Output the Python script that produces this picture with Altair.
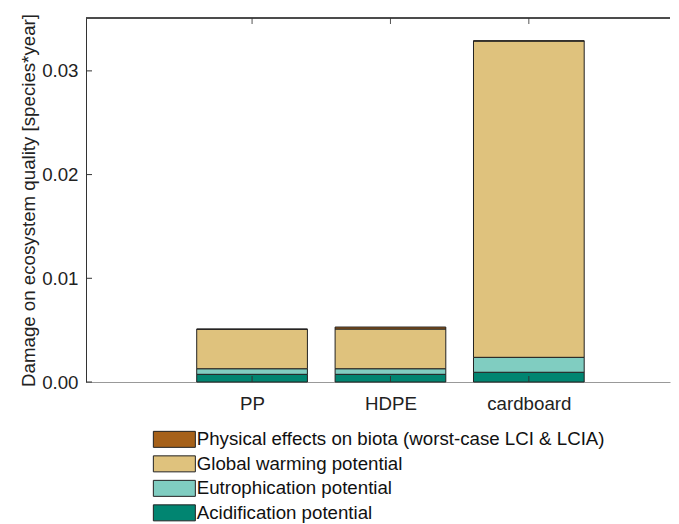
import altair as alt
import pandas as pd

materials = ["PP", "HDPE", "cardboard"]
positions = [1, 2, 3]
acidification = [0.00074, 0.00074, 0.00094]
eutrophication = [0.00054, 0.00054, 0.00144]
global_warming = [0.00380, 0.00383, 0.03050]
physical = [0.00003, 0.00019, 0.00002]

categories = [
    "Acidification potential",
    "Eutrophication potential",
    "Global warming potential",
    "Physical effects on biota (worst-case LCI & LCIA)",
]
legend_order = categories[::-1]
colors = {
    "Physical effects on biota (worst-case LCI & LCIA)": "#A6611A",
    "Global warming potential": "#DFC27D",
    "Eutrophication potential": "#80CDC1",
    "Acidification potential": "#018571",
}
y_ticks = [0.0, 0.01, 0.02, 0.03]

series = [acidification, eutrophication, global_warming, physical]
rows = []
for i, (m, p) in enumerate(zip(materials, positions)):
    base = 0.0
    for cat, vals in zip(categories, series):
        rows.append({"material": m, "pos": p, "cat": cat,
                     "y0": base, "y1": base + vals[i],
                     "x0": p - 0.4, "x1": p + 0.4})
        base += vals[i]
df = pd.DataFrame(rows)

FONT = "Liberation Sans"
FS = 18.7
W, H = 584, 364
xscale = alt.Scale(domain=[-0.2, 4.02], nice=False, zero=False)
yscale = alt.Scale(domain=[0, 0.0351], nice=False)

bars = alt.Chart(df).mark_bar(stroke="#222", strokeWidth=1, opacity=1).encode(
    x=alt.X("x0:Q", scale=xscale,
            axis=alt.Axis(values=positions, labelExpr="datum.value == 1 ? 'PP' : datum.value == 2 ? 'HDPE' : 'cardboard'",
                          grid=False, ticks=False, title=None, labelFontSize=FS, labelColor="#222",
                          labelPadding=12, domainColor="#999", labelFont=FONT)),
    x2="x1:Q",
    y=alt.Y("y0:Q", scale=yscale,
            axis=alt.Axis(values=y_ticks, format=".2f", grid=False, ticks=False,
                          title="Damage on ecosystem quality [species*year]",
                          titleFontSize=FS, titleFontWeight="normal", titleColor="#222",
                          labelFontSize=FS, labelColor="#222", labelPadding=8, titlePadding=3,
                          domainColor="#333", labelFont=FONT, titleFont=FONT)),
    y2="y1:Q",
    color=alt.Color("cat:N", scale=alt.Scale(domain=legend_order, range=[colors[c] for c in legend_order]),
                    legend=alt.Legend(title=None, orient="none", legendX=79, legendY=412,
                                      labelFontSize=FS, labelColor="#111", labelFont=FONT, labelLimit=600,
                                      symbolType="M-2.625,-1H2.625V1H-2.625Z", symbolSize=256,
                                      symbolStrokeColor="#222", symbolStrokeWidth=1,
                                      symbolOpacity=1, rowPadding=3.5, labelOffset=13, padding=0)),
    order=alt.Order("y0:Q"),
)

ytick_df = pd.DataFrame({"v": y_ticks})
xtick_df = pd.DataFrame({"p": positions})
ylt = alt.Chart(ytick_df).mark_rule(color="#333").encode(y=alt.Y("v:Q", scale=yscale), x=alt.value(0), x2=alt.value(6))
xtt = alt.Chart(xtick_df).mark_rule(color="#555").encode(x=alt.X("p:Q", scale=xscale), y=alt.value(0), y2=alt.value(6))
xbt = alt.Chart(xtick_df).mark_rule(color="#333").encode(x=alt.X("p:Q", scale=xscale), y=alt.value(H - 6), y2=alt.value(H))
top_line = alt.Chart(xtick_df).mark_rule(color="#333", strokeWidth=1).encode(
    x=alt.value(0), x2=alt.value(W), y=alt.value(0))

chart = alt.layer(bars, ylt, xtt, xbt, top_line).properties(
    width=W, height=H, padding={"left": 11, "top": 5, "right": 0, "bottom": 0}, background="white"
).configure_view(stroke=None)

chart.save("out.html", embed_options={"renderer": "svg", "actions": False})
